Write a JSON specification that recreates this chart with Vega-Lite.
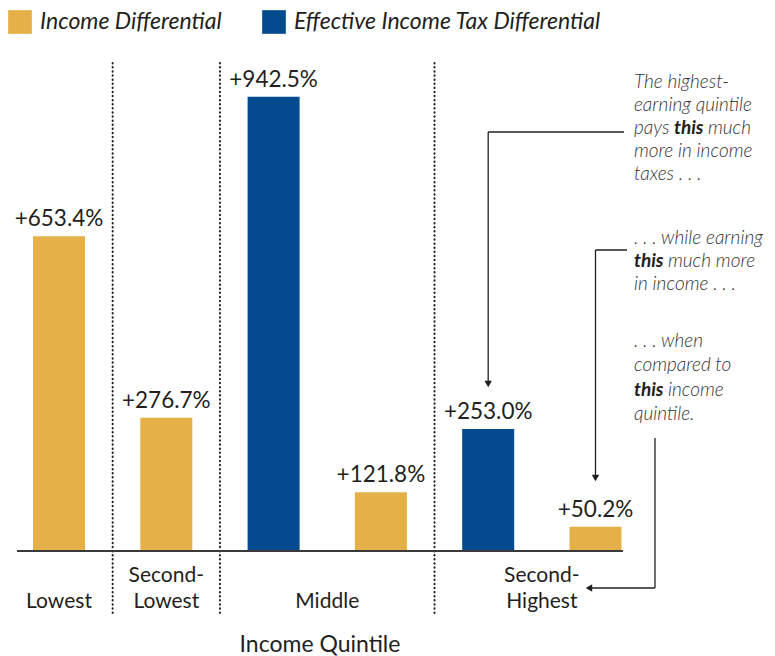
{
  "$schema": "https://vega.github.io/schema/vega-lite/v6.json",
  "width": 606,
  "height": 491,
  "autosize": {"type": "none"},
  "padding": {"left": 17, "top": 60, "right": 152, "bottom": 105},
  "background": "white",
  "config": {"view": {"stroke": null}, "font": "Lato"},
  "data": {
    "values": [
      {"quintile": "Lowest", "series": "Income Differential", "value": 653.4, "bar": "Lowest-Income"},
      {"quintile": "Second-Lowest", "series": "Income Differential", "value": 276.7, "bar": "SecondLowest-Income"},
      {"quintile": "Middle", "series": "Effective Income Tax Differential", "value": 942.5, "bar": "Middle-Tax"},
      {"quintile": "Middle", "series": "Income Differential", "value": 121.8, "bar": "Middle-Income"},
      {"quintile": "Second-Highest", "series": "Effective Income Tax Differential", "value": 253.0, "bar": "SecondHighest-Tax"},
      {"quintile": "Second-Highest", "series": "Income Differential", "value": 50.2, "bar": "SecondHighest-Income"}
    ]
  },
  "layer": [
    {
      "data": {"values": [{"bar": "SecondLowest-Income"}, {"bar": "Middle-Tax"}, {"bar": "SecondHighest-Tax"}]},
      "mark": {"type": "rule", "color": "#231f20", "strokeWidth": 2, "strokeDash": [0.5, 3.6], "strokeCap": "round"},
      "encoding": {
        "x": {"field": "bar", "type": "nominal", "bandPosition": -0.532, "axis": null, "scale": {"domain": ["Lowest-Income", "SecondLowest-Income", "Middle-Tax", "Middle-Income", "SecondHighest-Tax", "SecondHighest-Income"], "paddingInner": 0.5154, "paddingOuter": 0.0816, "align": 0.914}},
        "y": {"datum": 1012.8, "type": "quantitative", "axis": null, "scale": {"domain": [0, 1019], "nice": false}},
        "y2": {"datum": -130.7}
      }
    },
    {
      "mark": {"type": "bar"},
      "encoding": {
        "x": {"field": "bar", "type": "nominal", "sort": null, "axis": null, "scale": {"domain": ["Lowest-Income", "SecondLowest-Income", "Middle-Tax", "Middle-Income", "SecondHighest-Tax", "SecondHighest-Income"], "paddingInner": 0.5154, "paddingOuter": 0.0816, "align": 0.914}},
        "y": {"field": "value", "type": "quantitative", "axis": null, "scale": {"domain": [0, 1019], "nice": false}},
        "color": {"field": "series", "type": "nominal",
          "scale": {"domain": ["Income Differential", "Effective Income Tax Differential"], "range": ["#e5b047", "#034b8e"]},
          "legend": {"orient": "none", "legendX": -9, "legendY": -50, "direction": "horizontal", "title": null, "padding": 0, "symbolType": "square", "symbolSize": 560, "symbolStrokeWidth": 0, "symbolOpacity": 1, "labelFont": "Lato", "labelFontSize": 23, "labelFontStyle": "italic", "labelColor": "#231f20", "labelOffset": 8, "columnPadding": 40, "labelLimit": 500}}
      }
    },
    {
      "data": {"values": [{}]},
      "mark": {"type": "rule", "color": "#3a3a3a", "strokeWidth": 2},
      "encoding": {
        "y": {"datum": 0, "type": "quantitative", "axis": null}
      }
    },
    {
      "transform": [{"calculate": "'+' + format(datum.value, '.1f') + '%'", "as": "label"}],
      "mark": {"type": "text", "font": "Lato", "fontSize": 22.5, "color": "#231f20", "baseline": "alphabetic", "dy": -10},
      "encoding": {
        "x": {"field": "bar", "type": "nominal", "axis": null, "scale": {"domain": ["Lowest-Income", "SecondLowest-Income", "Middle-Tax", "Middle-Income", "SecondHighest-Tax", "SecondHighest-Income"], "paddingInner": 0.5154, "paddingOuter": 0.0816, "align": 0.914}},
        "y": {"field": "value", "type": "quantitative", "axis": null, "scale": {"domain": [0, 1019], "nice": false}},
        "text": {"field": "label"}
      }
    },
    {
      "data": {"values": [{"bar": "Lowest-Income", "label": "Lowest"}]},
      "mark": {"type": "text", "font": "Lato", "fontSize": 21, "color": "#231f20", "baseline": "alphabetic"},
      "encoding": {
        "x": {"field": "bar", "type": "nominal", "bandPosition": 0.5, "axis": null},
        "y": {"datum": -118.3, "type": "quantitative", "axis": null},
        "text": {"field": "label"}
      }
    },
    {
      "data": {"values": [{"bar": "SecondLowest-Income", "label": "Second-\nLowest"}]},
      "mark": {"type": "text", "font": "Lato", "fontSize": 21, "color": "#231f20", "baseline": "alphabetic", "lineBreak": "\n", "lineHeight": 26},
      "encoding": {
        "x": {"field": "bar", "type": "nominal", "bandPosition": 0.5, "axis": null},
        "y": {"datum": -64.3, "type": "quantitative", "axis": null},
        "text": {"field": "label"}
      }
    },
    {
      "data": {"values": [{"bar": "Middle-Income", "label": "Middle"}]},
      "mark": {"type": "text", "font": "Lato", "fontSize": 21, "color": "#231f20", "baseline": "alphabetic"},
      "encoding": {
        "x": {"field": "bar", "type": "nominal", "bandPosition": -0.532, "axis": null},
        "y": {"datum": -118.3, "type": "quantitative", "axis": null},
        "text": {"field": "label"}
      }
    },
    {
      "data": {"values": [{"bar": "SecondHighest-Income", "label": "Second-\nHighest"}]},
      "mark": {"type": "text", "font": "Lato", "fontSize": 21, "color": "#231f20", "baseline": "alphabetic", "lineBreak": "\n", "lineHeight": 26},
      "encoding": {
        "x": {"field": "bar", "type": "nominal", "bandPosition": -0.532, "axis": null},
        "y": {"datum": -64.3, "type": "quantitative", "axis": null},
        "text": {"field": "label"}
      }
    },
    {
      "data": {"values": [{"title": "Income Quintile"}]},
      "mark": {"type": "text", "font": "Lato", "fontSize": 23, "color": "#231f20", "baseline": "alphabetic"},
      "encoding": {
        "x": {"datum": "Middle-Tax", "type": "nominal", "bandPosition": 1.392, "axis": null},
        "y": {"datum": -209.6, "type": "quantitative", "axis": null},
        "text": {"field": "title"}
      }
    },
    {
      "data": {"values": [{}]},
      "mark": {"type": "rule", "color": "#231f20", "strokeWidth": 1.3},
      "encoding": {
        "x": {"datum": "SecondHighest-Income", "type": "nominal", "bandPosition": 1.048, "axis": null},
        "x2": {"datum": "SecondHighest-Tax", "bandPosition": 0.5},
        "y": {"datum": 869.6, "type": "quantitative", "axis": null}
      }
    },
    {
      "data": {"values": [{}]},
      "mark": {"type": "rule", "color": "#231f20", "strokeWidth": 1.3},
      "encoding": {
        "x": {"datum": "SecondHighest-Tax", "type": "nominal", "bandPosition": 0.5, "axis": null},
        "y": {"datum": 869.6, "type": "quantitative", "axis": null},
        "y2": {"datum": 350}
      }
    },
    {
      "data": {"values": [{}]},
      "mark": {"type": "rule", "color": "#231f20", "strokeWidth": 1.3},
      "encoding": {
        "x": {"datum": "SecondHighest-Income", "type": "nominal", "bandPosition": 1.106, "axis": null},
        "x2": {"datum": "SecondHighest-Income", "bandPosition": 0.5},
        "y": {"datum": 624.7, "type": "quantitative", "axis": null}
      }
    },
    {
      "data": {"values": [{}]},
      "mark": {"type": "rule", "color": "#231f20", "strokeWidth": 1.3},
      "encoding": {
        "x": {"datum": "SecondHighest-Income", "type": "nominal", "bandPosition": 0.5, "axis": null},
        "y": {"datum": 624.7, "type": "quantitative", "axis": null},
        "y2": {"datum": 155}
      }
    },
    {
      "data": {"values": [{}]},
      "mark": {"type": "rule", "color": "#231f20", "strokeWidth": 1.3},
      "encoding": {
        "x": {"datum": "SecondHighest-Income", "type": "nominal", "bandPosition": 1.644, "axis": null},
        "y": {"datum": 234.5, "type": "quantitative", "axis": null},
        "y2": {"datum": -76.8}
      }
    },
    {
      "data": {"values": [{}]},
      "mark": {"type": "rule", "color": "#231f20", "strokeWidth": 1.3},
      "encoding": {
        "x": {"datum": "SecondHighest-Income", "type": "nominal", "bandPosition": 1.644, "axis": null},
        "x2": {"datum": "SecondHighest-Income", "bandPosition": 0.42},
        "y": {"datum": -76.8, "type": "quantitative", "axis": null}
      }
    },
    {
      "data": {"values": [{}]},
      "mark": {"type": "point", "shape": "triangle-down", "filled": true, "size": 55, "color": "#231f20", "opacity": 1},
      "encoding": {
        "x": {"datum": "SecondHighest-Tax", "type": "nominal", "bandPosition": 0.5, "axis": null},
        "y": {"datum": 346.6, "type": "quantitative", "axis": null}
      }
    },
    {
      "data": {"values": [{}]},
      "mark": {"type": "point", "shape": "triangle-down", "filled": true, "size": 55, "color": "#231f20", "opacity": 1},
      "encoding": {
        "x": {"datum": "SecondHighest-Income", "type": "nominal", "bandPosition": 0.5, "axis": null},
        "y": {"datum": 151.5, "type": "quantitative", "axis": null}
      }
    },
    {
      "data": {"values": [{}]},
      "mark": {"type": "point", "shape": "triangle-left", "filled": true, "size": 55, "color": "#231f20", "opacity": 1},
      "encoding": {
        "x": {"datum": "SecondHighest-Income", "type": "nominal", "bandPosition": 0.375, "axis": null},
        "y": {"datum": -76.8, "type": "quantitative", "axis": null}
      }
    },
    {
      "data": {"values": [{}]},
      "mark": {"type": "text", "font": "Lato", "fontSize": 19, "fontStyle": "italic", "fontWeight": 300, "color": "#333333", "align": "left", "baseline": "alphabetic", "lineHeight": 23},
      "encoding": {
        "x": {"datum": "SecondHighest-Income", "type": "nominal", "bandPosition": 1.24, "axis": null},
        "y": {"datum": 960.9, "type": "quantitative", "axis": null},
        "text": {"value": ["The highest-", "earning quintile", "pays", "more in income", "taxes . . ."]}
      }
    },
    {
      "data": {"values": [{}]},
      "mark": {"type": "text", "font": "Lato", "fontSize": 19, "fontStyle": "italic", "fontWeight": "bold", "color": "#231f20", "align": "left", "baseline": "alphabetic", "dx": 40, "dy": 46},
      "encoding": {
        "x": {"datum": "SecondHighest-Income", "type": "nominal", "bandPosition": 1.24, "axis": null},
        "y": {"datum": 960.9, "type": "quantitative", "axis": null},
        "text": {"value": "this"}
      }
    },
    {
      "data": {"values": [{}]},
      "mark": {"type": "text", "font": "Lato", "fontSize": 19, "fontStyle": "italic", "fontWeight": 300, "color": "#333333", "align": "left", "baseline": "alphabetic", "dx": 74, "dy": 46},
      "encoding": {
        "x": {"datum": "SecondHighest-Income", "type": "nominal", "bandPosition": 1.24, "axis": null},
        "y": {"datum": 960.9, "type": "quantitative", "axis": null},
        "text": {"value": "much"}
      }
    },
    {
      "data": {"values": [{}]},
      "mark": {"type": "text", "font": "Lato", "fontSize": 19, "fontStyle": "italic", "fontWeight": 300, "color": "#333333", "align": "left", "baseline": "alphabetic"},
      "encoding": {
        "x": {"datum": "SecondHighest-Income", "type": "nominal", "bandPosition": 1.24, "axis": null},
        "y": {"datum": 637, "type": "quantitative", "axis": null},
        "text": {"value": ". . . while earning"}
      }
    },
    {
      "data": {"values": [{}]},
      "mark": {"type": "text", "font": "Lato", "fontSize": 19, "fontStyle": "italic", "fontWeight": "bold", "color": "#231f20", "align": "left", "baseline": "alphabetic", "dy": 23},
      "encoding": {
        "x": {"datum": "SecondHighest-Income", "type": "nominal", "bandPosition": 1.24, "axis": null},
        "y": {"datum": 637, "type": "quantitative", "axis": null},
        "text": {"value": "this"}
      }
    },
    {
      "data": {"values": [{}]},
      "mark": {"type": "text", "font": "Lato", "fontSize": 19, "fontStyle": "italic", "fontWeight": 300, "color": "#333333", "align": "left", "baseline": "alphabetic", "dx": 34, "dy": 23},
      "encoding": {
        "x": {"datum": "SecondHighest-Income", "type": "nominal", "bandPosition": 1.24, "axis": null},
        "y": {"datum": 637, "type": "quantitative", "axis": null},
        "text": {"value": "much more"}
      }
    },
    {
      "data": {"values": [{}]},
      "mark": {"type": "text", "font": "Lato", "fontSize": 19, "fontStyle": "italic", "fontWeight": 300, "color": "#333333", "align": "left", "baseline": "alphabetic", "dy": 46},
      "encoding": {
        "x": {"datum": "SecondHighest-Income", "type": "nominal", "bandPosition": 1.24, "axis": null},
        "y": {"datum": 637, "type": "quantitative", "axis": null},
        "text": {"value": "in income . . ."}
      }
    },
    {
      "data": {"values": [{}]},
      "mark": {"type": "text", "font": "Lato", "fontSize": 19, "fontStyle": "italic", "fontWeight": 300, "color": "#333333", "align": "left", "baseline": "alphabetic", "lineHeight": 24.5},
      "encoding": {
        "x": {"datum": "SecondHighest-Income", "type": "nominal", "bandPosition": 1.24, "axis": null},
        "y": {"datum": 423.4, "type": "quantitative", "axis": null},
        "text": {"value": [". . . when", "compared to"]}
      }
    },
    {
      "data": {"values": [{}]},
      "mark": {"type": "text", "font": "Lato", "fontSize": 19, "fontStyle": "italic", "fontWeight": "bold", "color": "#231f20", "align": "left", "baseline": "alphabetic", "dy": 49},
      "encoding": {
        "x": {"datum": "SecondHighest-Income", "type": "nominal", "bandPosition": 1.24, "axis": null},
        "y": {"datum": 423.4, "type": "quantitative", "axis": null},
        "text": {"value": "this"}
      }
    },
    {
      "data": {"values": [{}]},
      "mark": {"type": "text", "font": "Lato", "fontSize": 19, "fontStyle": "italic", "fontWeight": 300, "color": "#333333", "align": "left", "baseline": "alphabetic", "dx": 34, "dy": 49},
      "encoding": {
        "x": {"datum": "SecondHighest-Income", "type": "nominal", "bandPosition": 1.24, "axis": null},
        "y": {"datum": 423.4, "type": "quantitative", "axis": null},
        "text": {"value": "income"}
      }
    },
    {
      "data": {"values": [{}]},
      "mark": {"type": "text", "font": "Lato", "fontSize": 19, "fontStyle": "italic", "fontWeight": 300, "color": "#333333", "align": "left", "baseline": "alphabetic", "dy": 73.5},
      "encoding": {
        "x": {"datum": "SecondHighest-Income", "type": "nominal", "bandPosition": 1.24, "axis": null},
        "y": {"datum": 423.4, "type": "quantitative", "axis": null},
        "text": {"value": "quintile."}
      }
    }
  ]
}
